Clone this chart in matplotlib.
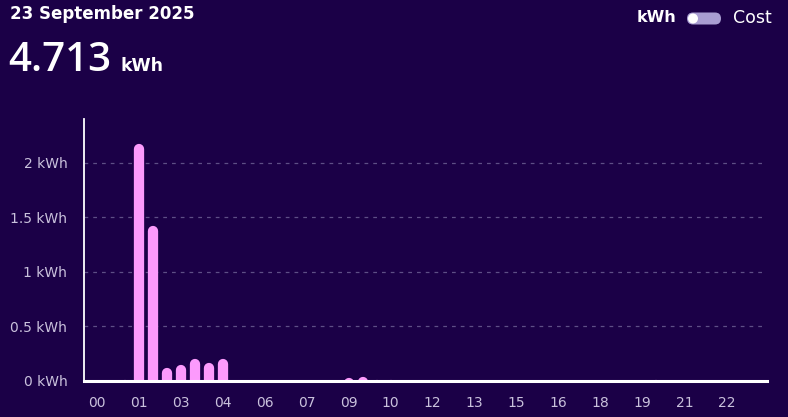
import numpy as np
import matplotlib.pyplot as plt
from matplotlib.patches import FancyBboxPatch, Circle

# half-hourly consumption, 48 slots (kWh)
usage = [0, 0, 0.012, 2.17, 1.42, 0.117, 0.15, 0.205, 0.168, 0.2,
         0, 0, 0, 0, 0, 0, 0.004, 0.004, 0.028, 0.035,
         0.012, 0.005, 0, 0.004, 0, 0, 0, 0, 0, 0,
         0, 0, 0, 0, 0, 0, 0.003, 0, 0.003, 0,
         0.006, 0, 0, 0, 0, 0, 0, 0]
tick_slots = list(range(0, 48, 3))
tick_labels = ["00", "01", "03", "04", "06", "07", "09", "10",
               "12", "13", "15", "16", "18", "19", "21", "22"]
y_ticks = [0, 0.5, 1, 1.5, 2]
y_labels = ["0 kWh", "0.5 kWh", "1 kWh", "1.5 kWh", "2 kWh"]
date_text = "23 September 2025"
total_text = "4.713"

BG = "#1b0047"
PINK = "#fc9afc"
W, H = 788, 417

plt.rcParams['font.family'] = ['DejaVu Sans']
fig = plt.figure(figsize=(W / 100, H / 100), dpi=100, facecolor=BG)
ax = fig.add_axes([84 / W, 36 / H, (767 - 84) / W, (381 - 119) / H])
ax.set_facecolor(BG)

ymax = 2.40
ax.set_xlim(-0.9, 47.9)
ax.set_ylim(0, ymax)

# bars with rounded tops: thick round-capped lines clipped at the baseline
px_per_kwh = (381 - 119) / ymax
r = 5 / px_per_kwh
x = np.arange(len(usage))
vals = np.array(usage)
mask = vals > 0
lc = ax.vlines(x[mask], -1, vals[mask] - r, colors=PINK, linewidth=7.4)
lc.set_capstyle('round')

for yv in y_ticks[1:]:
    ax.axhline(yv, xmax=0.997, color="#5e4f86", lw=0.9, ls=(0, (3, 4)), zorder=0)

ax.set_yticks(y_ticks)
ax.set_yticklabels(y_labels)
ax.set_xticks(tick_slots)
ax.set_xticklabels(tick_labels)
ax.tick_params(axis='both', length=0, colors="#c9c1dc", labelsize=10)
ax.tick_params(axis='y', pad=12)
ax.tick_params(axis='x', pad=11)

for s in ['top', 'right']:
    ax.spines[s].set_visible(False)
ax.spines['left'].set_color('white')
ax.spines['left'].set_linewidth(1.3)
ax.spines['bottom'].set_color('white')
ax.spines['bottom'].set_linewidth(2.2)
ax.spines['bottom'].set_zorder(5)

# header texts
fig.text(10 / W, 1 - 14 / H, date_text, color='white', fontsize=12,
         fontweight='bold', va='center', ha='left')
fig.text(8 / W, 1 - 71 / H, total_text, color='white', fontsize=29,
         family=['Open Sans', 'DejaVu Sans'], fontweight='semibold',
         va='baseline', ha='left')
fig.text(120 / W, 1 - 71 / H, "kWh", color='white', fontsize=12.5,
         fontweight='bold', va='baseline', ha='left')

# toggle in top right
fig.text(676 / W, 1 - 18 / H, "kWh", color='white', fontsize=11.5,
         fontweight='bold', va='center', ha='right')
fig.text(733 / W, 1 - 18 / H, "Cost", color='white', fontsize=12.5,
         va='center', ha='left')
pill = FancyBboxPatch((687, H - 24.5), 34, 12,
                      boxstyle="round,pad=0,rounding_size=6",
                      transform=None, facecolor="#a99dd2", edgecolor='none')
fig.add_artist(pill)
fig.add_artist(Circle((693, H - 18.5), 5, transform=None, facecolor='white',
                      edgecolor='none'))

fig.savefig("out.png", dpi=100, facecolor=BG)
